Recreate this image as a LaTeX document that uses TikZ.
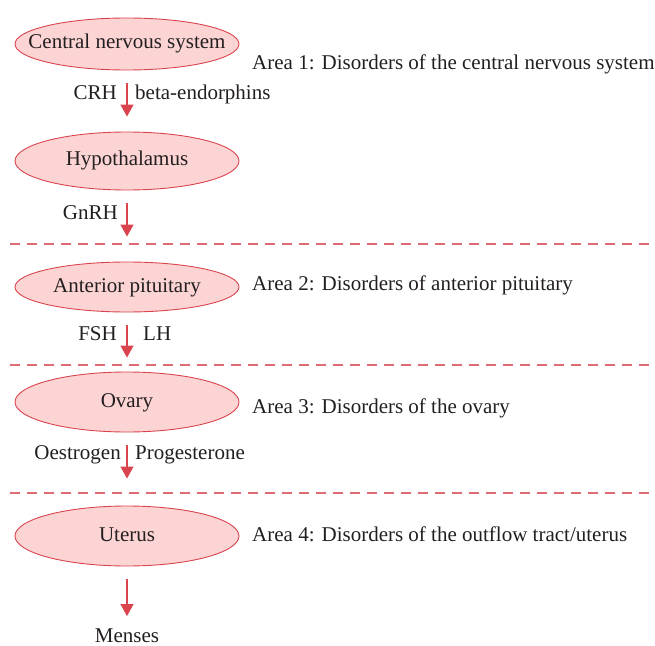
\documentclass[tikz,border=0pt]{standalone}
\usepackage{fontspec}
\setmainfont{Liberation Serif}
\usetikzlibrary{shapes.geometric,arrows.meta}
\definecolor{flowred}{HTML}{D9444F}
\definecolor{dividerred}{HTML}{DE6A73}
\definecolor{organfill}{HTML}{FCD4D4}
\definecolor{inkgray}{HTML}{231F20}
\newcommand{\organtext}[1]{\makebox[0pt][c]{#1}}
\begin{document}
\begin{tikzpicture}[x=1bp,y=-1bp,
  organ/.style={ellipse,draw=flowred,line width=0.9bp,fill=organfill,
    minimum width=224bp,inner sep=0pt,text=inkgray,text height=10bp,text depth=0bp,
    font=\fontsize{21bp}{24bp}\selectfont},
  lbl/.style={inner sep=0pt,text=inkgray,font=\fontsize{21bp}{24bp}\selectfont},
  flow/.style={draw=flowred,line width=1.3bp,-{Triangle[length=12bp,width=13bp]}},
  divider/.style={draw=dividerred,line width=1.2bp,dash pattern=on 10bp off 7bp}]
\useasboundingbox (0,0) rectangle (655,646);

% organs of the axis
\node[organ,minimum height=52bp] (cns) at (127,44) {\organtext{Central nervous system}};
\node[organ,minimum height=58bp] (hyp) at (127,161) {\organtext{Hypothalamus}};
\node[organ,minimum height=50bp] (ant) at (127,287) {\organtext{Anterior pituitary}};
\node[organ,minimum height=60bp] (ova) at (127,402) {\organtext{Ovary}};
\node[organ,minimum height=60bp] (ute) at (127,536) {\organtext{Uterus}};
\node[lbl,anchor=base] (men) at (127,642) {Menses};

% area descriptions
\node[lbl,anchor=base west] (a1) at (252,70) {Area 1: Disorders of the central nervous system};
\node[lbl,anchor=base west] (a2) at (252,290) {Area 2: Disorders of anterior pituitary};
\node[lbl,anchor=base west] (a3) at (252,413) {Area 3: Disorders of the ovary};
\node[lbl,anchor=base west] (a4) at (252,541) {Area 4: Disorders of the outflow tract/uterus};

% hormone flow
\draw[flow,shorten <=13bp,shorten >=15bp] (cns.south) -- (hyp.north);
\draw[flow,shorten <=13bp,shorten >=25bp] (hyp.south) -- (ant.north);
\draw[flow,shorten <=13bp,shorten >=14bp] (ant.south) -- (ova.north);
\draw[flow,shorten <=13bp,shorten >=27bp] (ova.south) -- (ute.north);
\draw[flow,shorten <=13bp,shorten >=12bp] (ute.south) -- (men.north);

% hormone labels
\node[lbl,anchor=base east] (crh) at (117,100) {CRH};
\node[lbl,anchor=base west] (bend) at (135,100) {beta-endorphins};
\node[lbl,anchor=base east] (gnrh) at (118,219) {GnRH};
\node[lbl,anchor=base east] (fsh) at (117,340) {FSH};
\node[lbl,anchor=base west] (lh) at (143,340) {LH};
\node[lbl,anchor=base east] (oes) at (121,459) {Oestrogen};
\node[lbl,anchor=base west] (pro) at (135,459) {Progesterone};

% area dividers
\coordinate (d1l) at (10,244); \coordinate (d1r) at (655,244);
\coordinate (d2l) at (10,365); \coordinate (d2r) at (655,365);
\coordinate (d3l) at (10,493); \coordinate (d3r) at (655,493);
\draw[divider] (d1l) -- (d1r);
\draw[divider] (d2l) -- (d2r);
\draw[divider] (d3l) -- (d3r);
\end{tikzpicture}
\end{document}
